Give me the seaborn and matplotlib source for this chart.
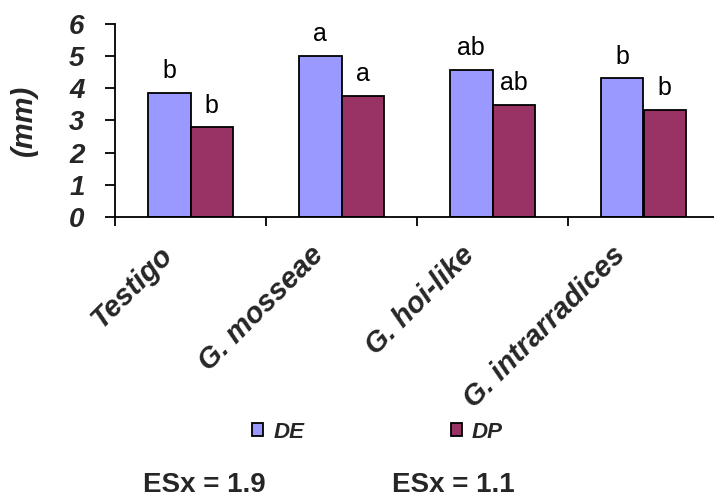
import matplotlib
matplotlib.use("Agg")
import matplotlib.pyplot as plt
import matplotlib.transforms as mtransforms
import seaborn as sns
import pandas as pd
import numpy as np

categories = ["Testigo", "G. mosseae", "G. hoi-like", "G. intrarradices"]
de_values = [3.87, 5.01, 4.57, 4.31]
dp_values = [2.79, 3.76, 3.49, 3.33]
de_letters = ["b", "a", "ab", "b"]
dp_letters = ["b", "a", "ab", "b"]
series_names = ["DE", "DP"]
y_ticks = [0, 1, 2, 3, 4, 5, 6]
es_texts = ["ESx = 1.9", "ESx = 1.1"]

sns.set_theme(style="white")
plt.rcParams['font.family'] = ['Liberation Sans', 'DejaVu Sans']

df = pd.DataFrame({
    "cat": categories * 2,
    "val": de_values + dp_values,
    "serie": [series_names[0]] * 4 + [series_names[1]] * 4,
})

W, H = 714, 500
fig = plt.figure(figsize=(W / 100, H / 100), dpi=100)
left, right, top, bottom = 115, 719, 24, 217
ax = fig.add_axes([left / W, 1 - bottom / H, (right - left) / W, (bottom - top) / H])

sns.barplot(data=df, x="cat", y="val", hue="serie", order=categories,
            hue_order=series_names, palette=["#9999FF", "#993366"],
            width=0.565, gap=0, edgecolor="black", linewidth=1.3,
            errorbar=None, ax=ax, saturation=1)

handles, labels = ax.get_legend_handles_labels()
if ax.get_legend() is not None:
    ax.get_legend().remove()

# letters above bars
for cont, letters in zip(ax.containers, [de_letters, dp_letters]):
    for patch, lt in zip(cont.patches, letters):
        x = patch.get_x() + patch.get_width() / 2
        y = patch.get_height()
        ax.annotate(lt, (x, y), xytext=(0, 7), textcoords="offset points",
                    ha="center", va="bottom", fontsize=18, color="black")

ax.set_xlim(-0.5, 3.5)
ax.set_ylim(0, 6)
ax.set_yticks(y_ticks)
ax.set_yticklabels([str(t) for t in y_ticks], fontsize=20, fontweight="bold",
                   fontstyle="italic")
ax.set_xticks(range(len(categories)))
ax.set_xticklabels(categories, fontsize=21, fontweight="bold", fontstyle="italic",
                   rotation=45, ha="right", rotation_mode="anchor")
ax.tick_params(axis="x", which="major", length=0, pad=17)
shift = mtransforms.ScaledTranslation(-32 / 100, 0, fig.dpi_scale_trans)
for lab in ax.get_xticklabels():
    lab.set_transform(lab.get_transform() + shift)
ax.set_xticks(np.arange(-0.5, 4.0, 1.0), minor=True)
ax.tick_params(axis="x", which="minor", length=6.5, width=1.3, color="black",
               direction="out", bottom=True)
ax.tick_params(axis="y", length=7, width=1.3, color="black", direction="out",
               left=True, pad=15)
ax.set_xlabel("")
ax.set_ylabel("(mm)", fontsize=21, fontweight="bold", fontstyle="italic")
ax.yaxis.set_label_coords(-0.127, 0.5)

for s in ["top", "right"]:
    ax.spines[s].set_visible(False)
for s in ["left", "bottom"]:
    ax.spines[s].set_color("black")
    ax.spines[s].set_linewidth(1.3)

fig.legend(handles, labels, loc="center left", bbox_to_anchor=(252 / W, 1 - 432 / H),
           ncol=2, frameon=False, borderpad=0, borderaxespad=0,
           handlelength=0.5, handleheight=0.5,
           handletextpad=0.45, columnspacing=6.6,
           prop={"size": 16, "weight": "bold", "style": "italic"})

fig.text(143 / W, 1 - 485 / H, es_texts[0], fontsize=20, fontweight="bold",
         ha="left", va="center")
fig.text(392 / W, 1 - 485 / H, es_texts[1], fontsize=20, fontweight="bold",
         ha="left", va="center")

fig.savefig("out.png", dpi=100)
